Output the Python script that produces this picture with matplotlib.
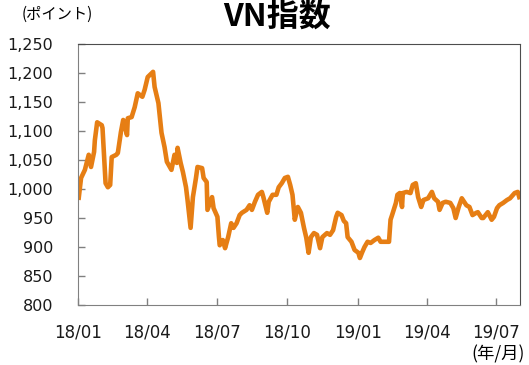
"""
plot.py - VN指数 (Vietnam VN-Index) daily line chart, 2018/01 - 2019/07.
"""

import numpy as np
import pandas as pd
import matplotlib
matplotlib.use("Agg")
import matplotlib.pyplot as plt

# Values (approximate)
dates = [
    "2018-01-02", "2018-01-05", "2018-01-10", "2018-01-15", "2018-01-18", "2018-01-22",
    "2018-01-23", "2018-01-26", "2018-02-01", "2018-02-02", "2018-02-06", "2018-02-09",
    "2018-02-12", "2018-02-14", "2018-02-20", "2018-02-22", "2018-02-26", "2018-03-01",
    "2018-03-06", "2018-03-07", "2018-03-12", "2018-03-16", "2018-03-20", "2018-03-26",
    "2018-03-29", "2018-04-02", "2018-04-09", "2018-04-11", "2018-04-16", "2018-04-20",
    "2018-04-24", "2018-04-27", "2018-05-03", "2018-05-07", "2018-05-10", "2018-05-11",
    "2018-05-15", "2018-05-18", "2018-05-22", "2018-05-24", "2018-05-28", "2018-05-31",
    "2018-06-04", "2018-06-06", "2018-06-12", "2018-06-14", "2018-06-18", "2018-06-19",
    "2018-06-25", "2018-06-27", "2018-07-02", "2018-07-04", "2018-07-05", "2018-07-09",
    "2018-07-12", "2018-07-16", "2018-07-20", "2018-07-23", "2018-07-27", "2018-07-31",
    "2018-08-03", "2018-08-09", "2018-08-13", "2018-08-16", "2018-08-20", "2018-08-24",
    "2018-08-29", "2018-08-31", "2018-09-05", "2018-09-07", "2018-09-12", "2018-09-17",
    "2018-09-20", "2018-09-24", "2018-09-28", "2018-10-02", "2018-10-05", "2018-10-08",
    "2018-10-11", "2018-10-15", "2018-10-19", "2018-10-23", "2018-10-26", "2018-10-29",
    "2018-11-01", "2018-11-05", "2018-11-09", "2018-11-13", "2018-11-16", "2018-11-22",
    "2018-11-26", "2018-11-30", "2018-12-04", "2018-12-06", "2018-12-11", "2018-12-14",
    "2018-12-17", "2018-12-19", "2018-12-24", "2018-12-28", "2019-01-02", "2019-01-04",
    "2019-01-07", "2019-01-10", "2019-01-14", "2019-01-18", "2019-01-23", "2019-01-28",
    "2019-01-31", "2019-02-04", "2019-02-11", "2019-02-13", "2019-02-15", "2019-02-20",
    "2019-02-22", "2019-02-25", "2019-02-28", "2019-03-01", "2019-03-06", "2019-03-11",
    "2019-03-14", "2019-03-18", "2019-03-21", "2019-03-25", "2019-03-28", "2019-04-03",
    "2019-04-08", "2019-04-11", "2019-04-16", "2019-04-18", "2019-04-22", "2019-04-26",
    "2019-05-02", "2019-05-06", "2019-05-09", "2019-05-13", "2019-05-17", "2019-05-23",
    "2019-05-27", "2019-05-31", "2019-06-05", "2019-06-07", "2019-06-12", "2019-06-14",
    "2019-06-20", "2019-06-25", "2019-06-28", "2019-07-02", "2019-07-05", "2019-07-10",
    "2019-07-15", "2019-07-19", "2019-07-25", "2019-07-29", "2019-07-31",
]
vn_index = [
    985, 1019, 1033, 1059, 1038, 1064,
    1084, 1115, 1110, 1105, 1010, 1003,
    1007, 1055, 1059, 1062, 1098, 1119,
    1093, 1122, 1124, 1141, 1165, 1159,
    1171, 1193, 1202, 1176, 1148, 1097,
    1072, 1047, 1033, 1059, 1045, 1071,
    1045, 1029, 1003, 981, 933, 986,
    1019, 1038, 1036, 1019, 1012, 964,
    986, 967, 952, 917, 903, 912,
    898, 917, 941, 933, 941, 955,
    959, 964, 972, 964, 978, 990,
    995, 986, 959, 978, 990, 990,
    1003, 1010, 1019, 1021, 1007, 990,
    947, 969, 959, 933, 916, 890,
    917, 924, 921, 898, 917, 924,
    921, 929, 952, 959, 955, 945,
    941, 917, 909, 895, 890, 881,
    891, 900, 909, 907, 912, 916,
    909, 909, 909, 947, 955, 976,
    990, 993, 969, 993, 995, 993,
    1007, 1010, 986, 969, 981, 984,
    995, 984, 978, 964, 976, 978,
    976, 967, 950, 969, 984, 972,
    969, 955, 959, 960, 950, 950,
    960, 947, 952, 967, 972, 976,
    981, 984, 993, 995, 986,
]
y_ticks = [800, 850, 900, 950, 1000, 1050, 1100, 1150, 1200, 1250]
x_tick_dates = ["2018-01-01", "2018-04-01", "2018-07-01", "2018-10-01",
                "2019-01-01", "2019-04-01", "2019-07-01"]

JP_FONT = ["Noto Sans CJK JP", "DejaVu Sans"]
LINE_COLOR = "#E67E14"


def main():
    x = pd.to_datetime(dates)
    y = np.array(vn_index)

    fig = plt.figure(figsize=(5.29, 3.65), dpi=100)
    ax = fig.add_axes([78 / 529, 1 - 305 / 365, 442 / 529, 261 / 365])

    ax.plot(x, y, color=LINE_COLOR, lw=3.3, solid_joinstyle="round")

    ax.set_ylim(800, 1250)
    ax.set_xlim(pd.Timestamp("2018-01-01"), pd.Timestamp("2019-08-01"))
    ax.set_yticks(y_ticks)
    ax.set_yticklabels([f"{v:,}" for v in y_ticks])
    ticks = pd.to_datetime(x_tick_dates)
    ax.set_xticks(ticks)
    ax.set_xticklabels([t.strftime("%y/%m") for t in ticks])

    # inward ticks, labels pushed well away from the frame
    ax.tick_params(axis="y", direction="in", length=5, width=1, color="#808080",
                   labelsize=11.5, pad=18, labelcolor="#1a1a1a")
    ax.tick_params(axis="x", direction="in", length=5, width=1, color="#808080",
                   labelsize=12, pad=13, labelcolor="#1a1a1a")
    for side in ("left", "bottom"):
        ax.spines[side].set_color("#808080")
    for side in ("top", "right"):
        ax.spines[side].set_color("#4d4d4d")

    fig.text(277 / 529, 1 - 17 / 365, "VN指数", ha="center", va="center",
             fontsize=23, fontweight="bold", family=JP_FONT)
    fig.text(57 / 529, 1 - 14 / 365, "(ポイント)", ha="center", va="center",
             fontsize=11, family=JP_FONT)
    fig.text(498 / 529, 1 - 354 / 365, "(年/月)", ha="center", va="center",
             fontsize=12.5, family=JP_FONT)

    fig.savefig("out.png", dpi=100)


if __name__ == "__main__":
    main()
